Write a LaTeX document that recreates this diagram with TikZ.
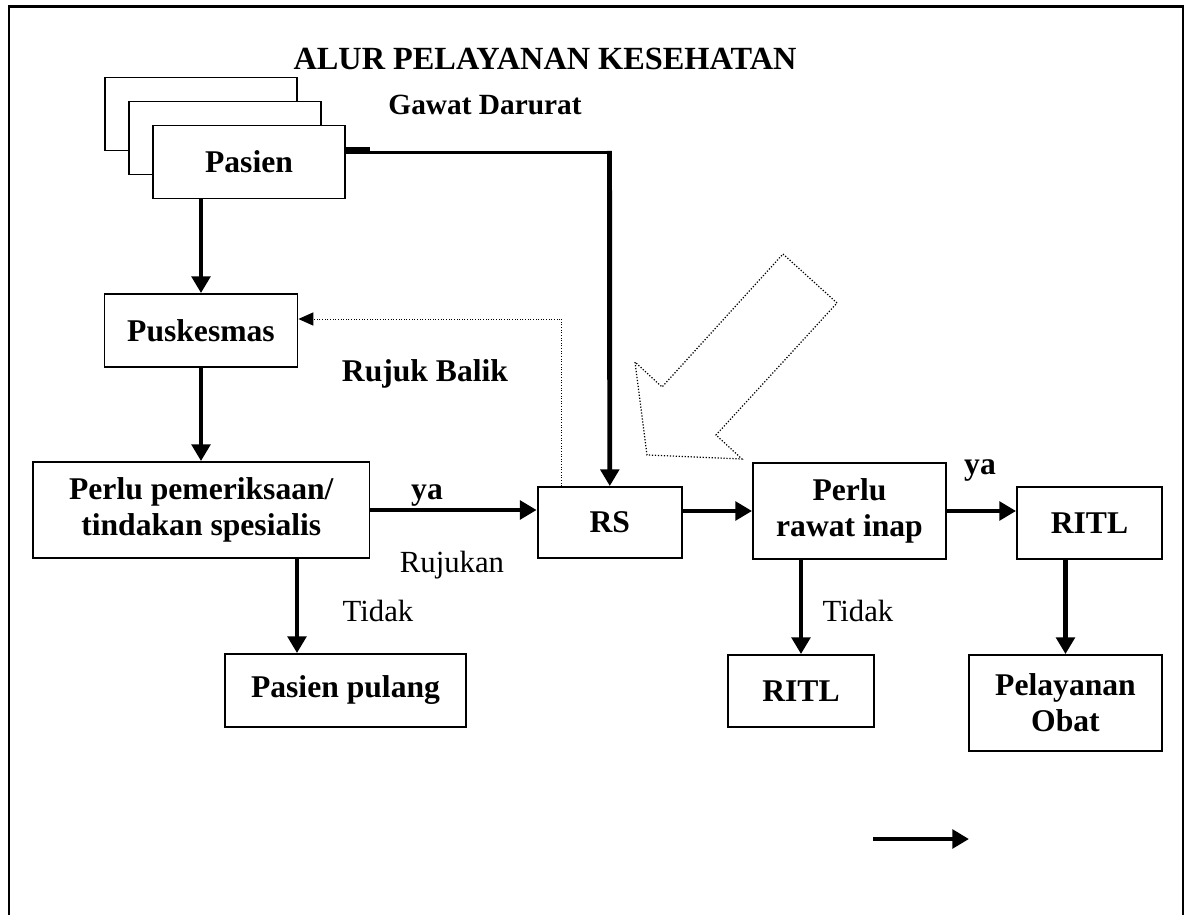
\documentclass[tikz,border=0pt]{standalone}
\usepackage{fontspec}
\setmainfont{Liberation Serif}
\usetikzlibrary{arrows.meta,positioning,shapes.geometric}

\begin{document}
\begin{tikzpicture}[x=0.02cm, y=-0.02cm,
    box/.style={draw, line width=1.1pt, fill=white, inner sep=0pt, align=center, font=\bfseries\fontsize{18}{20.5}\selectfont},
    flow/.style={line width=2.8pt, -{Triangle[length=9.5pt, width=10.5pt]}},
    balik/.style={densely dotted, line width=0.5pt, -{Triangle[length=8.5pt, width=7.5pt]}},
    lbl/.style={anchor=base, font=\fontsize{17.5}{20}\selectfont},
    blbl/.style={anchor=base, font=\bfseries\fontsize{18}{21}\selectfont}]
    \useasboundingbox (0,0) rectangle (1191,915);
    % Frame
    \draw[line width=1.2pt] (9,915) -- (9,6.5) -- (1183,6.5) -- (1183,915);

    % Nodes
    \node[box, minimum width=3.84cm, minimum height=1.46cm] (stackA) at (201,114) {};
    \node[box, minimum width=3.84cm, minimum height=1.46cm] (stackB) at (225,138) {};
    \node[box, minimum width=3.84cm, minimum height=1.46cm] (pasien) at (249,162) {Pasien};
    \node[box, minimum width=3.86cm, minimum height=1.46cm] (pusk) at (201,330.5) {Puskesmas};
    \node[box, minimum width=6.73cm, minimum height=1.92cm] (periksa) at (201.3,510) {Perlu pemeriksaan/\\tindakan spesialis};
    \node[box, minimum width=2.89cm, minimum height=1.42cm] (rs) at (609.8,522.5) {RS};
    \node[box, minimum width=4.82cm, minimum height=1.46cm] (pulang) at (345.5,690.5) {Pasien pulang};
    \node[box, minimum width=3.86cm, minimum height=1.92cm] (inap) at (849.5,511) {Perlu\\rawat inap};
    \node[box, minimum width=2.9cm, minimum height=1.44cm] (ritlA) at (1089.5,523) {RITL};
    \node[box, minimum width=3.86cm, minimum height=1.92cm] (obat) at (1065.5,703) {Pelayanan\\Obat};
    \node[box, minimum width=2.92cm, minimum height=1.44cm] (ritlB) at (801,691) {RITL};

    % Edges
    \coordinate (gd) at (609.5,152.3);
    \coordinate (tidakA) at ([xshift=-0.97cm]pulang.north);
    \draw[line width=2.8pt] ([yshift=0.25cm]pasien.east) -- ++(24,0);
    \draw[line width=1.7pt] (pasien.east |- gd) -- (gd);
    \draw[flow] ([yshift=0.03cm]gd) -- (rs.north);
    \draw[flow] (pasien.south -| pusk.north) -- (pusk.north);
    \draw[flow] (pusk.south) -- (pusk.south |- periksa.north);
    \draw[flow] (periksa.east) -- (periksa.east -| rs.west);
    \draw[flow] (periksa.south -| tidakA) -- (tidakA);
    \draw[balik] ([xshift=-0.96cm]rs.north) |- ([yshift=0.23cm]pusk.east);
    \draw[flow] (rs.east |- inap.west) -- (inap.west);
    \draw[flow] (inap.east) -- (inap.east -| ritlA.west);
    \draw[flow] (inap.south -| ritlB.north) -- (ritlB.north);
    \draw[flow] (ritlA.south -| obat.north) -- (obat.north);

    % Annotations
    \node[blbl, font=\bfseries\fontsize{18.4}{21}\selectfont] (judul) at (545,70) {ALUR PELAYANAN KESEHATAN};
    \node[blbl, font=\bfseries\fontsize{16.7}{20}\selectfont] (gawat) at (485,115) {Gawat Darurat};
    \node[blbl] (rujukbalik) at (425,382) {Rujuk Balik};
    \node[blbl] (yaA) at (427,500) {ya};
    \node[lbl] (rujukan) at (452,573) {Rujukan};
    \node[lbl] (tidakB) at (378,622) {Tidak};
    \node[blbl] (yaB) at (980,475) {ya};
    \node[lbl] (tidakC) at (858,622) {Tidak};

    % Hollow arrow
    \draw[densely dotted, line width=0.7pt] (783,254) -- (837,303) -- (716,435) -- (742,459) -- (647,455) -- (635,362) -- (662,387) -- cycle;

    % Legend
    \coordinate (legA) at (873,839);
    \coordinate (legB) at (969,839);
    \draw[flow] (legA) -- (legB);
\end{tikzpicture}
\end{document}
